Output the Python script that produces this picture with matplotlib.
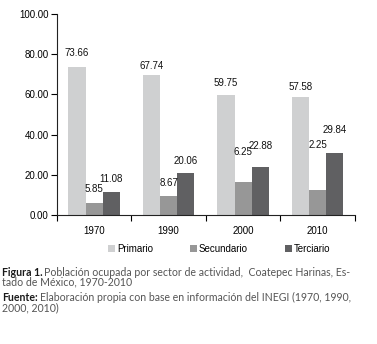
import numpy as np
import matplotlib.pyplot as plt

years = ['1970', '1990', '2000', '2010']
series = ['Primario', 'Secundario', 'Terciario']
# bar heights as drawn in the figure
primario = [73.9, 69.8, 59.6, 58.5]
secundario = [5.9, 9.3, 16.6, 12.6]
terciario = [11.3, 20.7, 23.8, 30.7]
# printed value labels (as they appear in the source)
lab_primario = ['73.66', '67.74', '59.75', '57.58']
lab_secundario = ['5.85', '8.67', '6.25', '2.25']
lab_terciario = ['11.08', '20.06', '22.88', '29.84']
# vertical position of each label (data units)
pos_primario = [80.6, 74.1, 65.7, 63.7]
pos_secundario = [12.9, 15.9, 31.3, 34.8]
pos_terciario = [17.9, 26.9, 34.3, 42.3]

colors = ['#cfd0d1', '#979797', '#606062']

plt.rcParams['font.family'] = ['Liberation Sans', 'DejaVu Sans']

fig = plt.figure(figsize=(3.77, 3.44), dpi=100)
ax = fig.add_axes([0.151, 0.375, 0.790, 0.584])

x = np.arange(len(years))
w = 0.23
offsets = [-w, 0, w]
data = [primario, secundario, terciario]
labels = [lab_primario, lab_secundario, lab_terciario]
positions = [pos_primario, pos_secundario, pos_terciario]
for i in range(3):
    ax.bar(x + offsets[i], data[i], width=w, color=colors[i], label=series[i])
    for j in range(len(years)):
        ax.text(x[j] + offsets[i], positions[i][j], labels[i][j], ha='center',
                va='center', fontsize=7, color='#111111')

ax.set_xlim(-0.5, 3.5)
ax.set_ylim(0, 100)
ax.set_yticks(np.arange(0, 101, 20))
ax.set_yticklabels(['%.2f' % v for v in np.arange(0, 101, 20)], fontsize=7)
ax.set_xticks(np.arange(-0.5, 4, 1))
ax.set_xticklabels([])
ax.set_xticks(x, minor=True)
ax.set_xticklabels(years, minor=True, fontsize=7)
ax.tick_params(axis='x', which='minor', length=0, pad=8)
ax.tick_params(axis='x', which='major', length=4, width=0.8, direction='out')
ax.tick_params(axis='y', length=4, width=0.8, direction='out', pad=2)
ax.spines['top'].set_visible(False)
ax.spines['right'].set_visible(False)
for s in ['left', 'bottom']:
    ax.spines[s].set_color('#222222')
    ax.spines[s].set_linewidth(0.8)

ax.legend(loc='upper center', bbox_to_anchor=(0.545, -0.1), ncol=3, frameon=False,
          fontsize=7, handlelength=0.7, handleheight=0.7, handletextpad=0.2,
          columnspacing=3.8)

# caption
cap_font = ['Lato', 'DejaVu Sans']
fs = 7.6
fig.canvas.draw()
r = fig.canvas.get_renderer()

def mixed(y, bold, rest):
    t1 = fig.text(0.006, y, bold, fontsize=fs, family=cap_font, color='#1a1a1a',
                  weight='bold', va='baseline')
    bb = t1.get_window_extent(r)
    x2 = bb.x1 / fig.bbox.width + 0.004
    fig.text(x2, y, rest, fontsize=fs, family=cap_font, color='#555555',
             va='baseline')

mixed(0.198, 'Figura 1.', 'Población ocupada por sector de actividad,  Coatepec Harinas, Es-')
fig.text(0.006, 0.169, 'tado de México, 1970-2010', fontsize=fs, family=cap_font,
         color='#555555', va='baseline')
mixed(0.125, 'Fuente:', 'Elaboración propia con base en información del INEGI (1970, 1990,')
fig.text(0.006, 0.096, '2000, 2010)', fontsize=fs, family=cap_font,
         color='#555555', va='baseline')

fig.savefig('out.png', dpi=100)
